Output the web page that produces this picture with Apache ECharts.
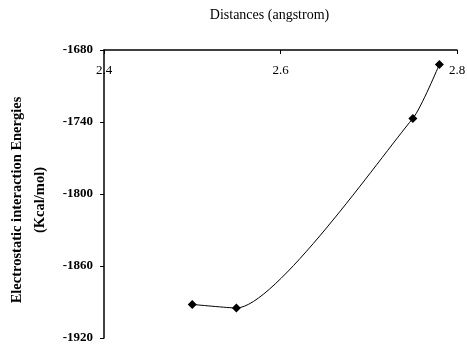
<!DOCTYPE html>
<html><head><meta charset="utf-8">
<script src="https://cdn.jsdelivr.net/npm/echarts@6/dist/echarts.min.js"></script>
<style>html,body{margin:0;padding:0;background:#fff}#c{width:467px;height:347px}</style>
</head><body><div id="c"></div>
<script>
const distances = [2.5, 2.55, 2.75, 2.78];
const energies = [-1892, -1895, -1737, -1692];
const xTicks = [2.4, 2.6, 2.8];
const yTicks = [-1680, -1740, -1800, -1860, -1920];
const xTitle = 'Distances (angstrom)';
const yTitle = 'Electrostatic interaction Energies\n(Kcal/mol)';

const chart = echarts.init(document.getElementById('c'));
const font = 'Liberation Serif';
chart.setOption({
  animation: false,
  grid: {left: 104, top: 50, width: 353, height: 288, containLabel: false, outerBoundsMode: 'none'},
  xAxis: {
    type: 'value', position: 'top', min: 2.4, max: 2.8, interval: 0.2,
    axisLine: {show: true, lineStyle: {color: '#000', width: 1.5}},
    axisTick: {show: true, inside: true, length: 4, lineStyle: {color: '#000'}},
    axisLabel: {inside: true, margin: 14, color: '#000', fontFamily: font, fontSize: 13,
      formatter: v => xTicks.includes(+v.toFixed(1)) ? v.toFixed(1) : ''},
    splitLine: {show: false},
    name: xTitle, nameLocation: 'middle', nameGap: 28,
    nameTextStyle: {color: '#000', fontFamily: font, fontSize: 14, padding: [0, 22, 0, 0]}
  },
  yAxis: {
    type: 'value', min: -1920, max: -1680, interval: 60,
    axisLine: {show: true, lineStyle: {color: '#000', width: 1.5}},
    axisTick: {show: true, length: 4, lineStyle: {color: '#000'}},
    axisLabel: {color: '#000', fontFamily: font, fontSize: 13, fontWeight: 'bold', margin: 11,
      formatter: v => yTicks.includes(v) ? String(v) : ''},
    splitLine: {show: false},
    name: yTitle, nameLocation: 'middle', nameGap: 52, nameRotate: 90,
    nameTextStyle: {color: '#000', fontFamily: font, fontSize: 14.5, fontWeight: 'bold', lineHeight: 23, padding: [0, 12, 0, 0]}
  },
  series: [{
    type: 'line', smooth: 0.2,
    data: distances.map((d, i) => [d, energies[i]]),
    symbol: 'diamond', symbolSize: 9,
    itemStyle: {color: '#000'},
    lineStyle: {color: '#000', width: 1}
  }]
});
</script></body></html>
